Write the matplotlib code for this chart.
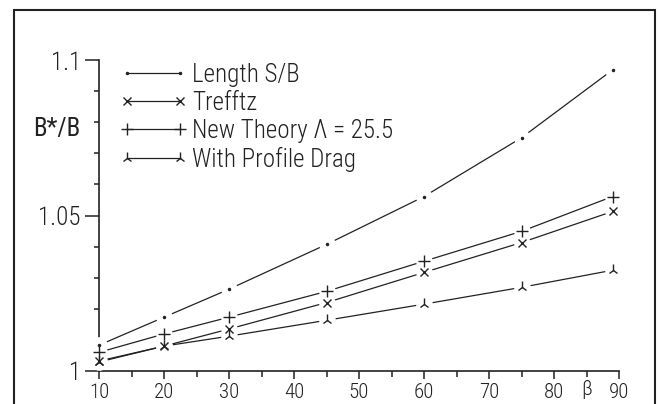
import matplotlib
matplotlib.use("Agg")
import matplotlib.pyplot as plt
import matplotlib.font_manager as fm
from matplotlib.patches import Rectangle
from matplotlib.ticker import FixedLocator, FixedFormatter
from matplotlib.transforms import blended_transform_factory

# 데이터
beta = [10, 20, 30, 45, 60, 75, 89]
length_sb = [1.0083, 1.0173, 1.0263, 1.0407, 1.0561, 1.0750, 1.0968]
trefftz = [1.0032, 1.0080, 1.0135, 1.0220, 1.0317, 1.0413, 1.0513]
new_theory = [1.0060, 1.0119, 1.0173, 1.0256, 1.0353, 1.0449, 1.0561]
profile_drag = [1.0029, 1.0080, 1.0112, 1.0163, 1.0215, 1.0269, 1.0324]

labels = ['Length S/B', 'Trefftz', 'New Theory Λ = 25.5', 'With Profile Drag']
x_ticks = [10, 20, 30, 40, 50, 60, 70, 80, 90]
x_minor = [15, 25, 35, 45, 55, 65, 75, 85]
y_ticks = [1.0, 1.05, 1.1]
y_tick_labels = ['1', '1.05', '1.1']
y_minor = [1.01, 1.02, 1.03, 1.04, 1.06, 1.07, 1.08, 1.09]

# 글꼴: 좁은 글꼴이 있으면 사용
names = {f.name for f in fm.fontManager.ttflist}
font = 'DejaVu Sans'
for cand in ['Roboto Condensed', 'Liberation Sans Narrow', 'Open Sans Condensed',
             'DejaVu Sans Condensed']:
    if cand in names:
        font = cand
        break
plt.rcParams['font.family'] = [font, 'DejaVu Sans']
plt.rcParams['font.stretch'] = 'condensed'
plt.rcParams['font.weight'] = 'light'
plt.rcParams['font.size'] = 18

ink = '#222222'

fig = plt.figure(figsize=(6.59, 4.04), dpi=100)
ax = fig.add_axes([99 / 659, 33 / 404, 520 / 659, 311 / 404])

series = [
    (length_sb, '.', 3),
    (trefftz, 'x', 6),
    (new_theory, '+', 9),
    (profile_drag, '2', 8),
]

# 선
for vals, m, ms in series:
    ax.plot(beta, vals, color=ink, lw=0.9, clip_on=False, zorder=2)
# 마커 주위의 틈
for vals, m, ms in series:
    ax.plot(beta, vals, ls='none', marker='o', ms=12, mfc='white', mec='none',
            clip_on=False, zorder=3)
# 마커
handles = []
for (vals, m, ms), lab in zip(series, labels):
    ax.plot(beta, vals, ls='none', marker=m, ms=ms, mew=1.0, color=ink,
            clip_on=False, zorder=4)
    handles.append(plt.Line2D([], [], color=ink, lw=0.9, marker=m, ms=ms, mew=1.0))

ax.set_xlim(10, 90)
ax.set_ylim(1.0, 1.1)

for s in ['top', 'right']:
    ax.spines[s].set_visible(False)
for s in ['left', 'bottom']:
    ax.spines[s].set_linewidth(1.2)
    ax.spines[s].set_color(ink)

ax.xaxis.set_major_locator(FixedLocator(x_ticks))
ax.xaxis.set_minor_locator(FixedLocator(x_minor))
ax.yaxis.set_major_locator(FixedLocator(y_ticks))
ax.yaxis.set_major_formatter(FixedFormatter(y_tick_labels))
ax.yaxis.set_minor_locator(FixedLocator(y_minor))

ax.tick_params(axis='x', which='major', length=6, width=1.1, pad=3, colors=ink,
               labelsize=15)
ax.tick_params(axis='x', which='minor', length=4, width=1.1, colors=ink)
ax.tick_params(axis='y', which='major', length=10, width=1.1, pad=3, colors=ink)
ax.tick_params(axis='y', which='minor', length=3.5, width=1.1, colors=ink)

# β 표시
tr = blended_transform_factory(ax.transData, ax.transAxes)
ax.text(85, -0.03, 'β', transform=tr, ha='center', va='top', color=ink,
        fontsize=15)

ax.set_ylabel('B*/B', rotation=0, color=ink)
ax.yaxis.set_label_coords(-0.081, 0.74)

ax.legend(handles, labels, loc='upper left', bbox_to_anchor=(0.04, 0.99),
          frameon=False, numpoints=2, handlelength=2.7, handletextpad=0.2,
          labelspacing=0.16, borderpad=0, borderaxespad=0, labelcolor=ink)

# 바깥 테두리
fig.patches.append(Rectangle((14 / 659, -0.1), 641 / 659, 394 / 404 + 0.1,
                             transform=fig.transFigure, fill=False,
                             lw=1.5, ec=ink))

fig.savefig('out.png', dpi=100)
